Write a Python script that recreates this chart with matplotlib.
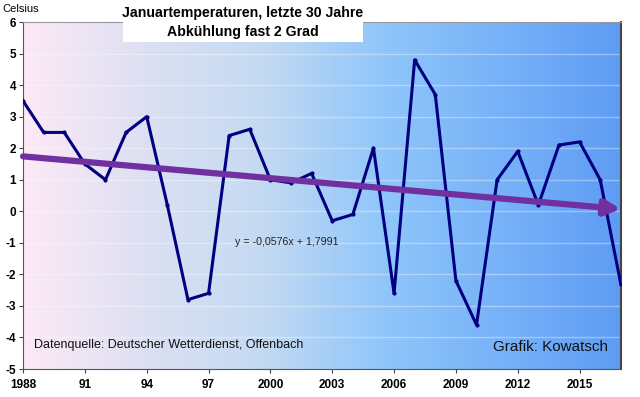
#!/usr/bin/env python3

import numpy as np
import matplotlib.pyplot as plt
from matplotlib.colors import LinearSegmentedColormap

years = list(range(1988, 2018))
temps = [3.5, 2.5, 2.5, 1.5, 1.0, 2.5, 3.0, 0.2, -2.8, -2.6,
         2.4, 2.6, 1.0, 0.9, 1.2, -0.3, -0.1, 2.0, -2.6, 4.8,
         3.7, -2.2, -3.6, 1.0, 1.9, 0.2, 2.1, 2.2, 1.0, -2.3]
trend_slope = -0.0576
trend_icept = 1.7991
xtick_years = [1988, 1991, 1994, 1997, 2000, 2003, 2006, 2009, 2012, 2015]
xtick_labels = ['1988', '91', '94', '97', '2000', '2003', '2006', '2009', '2012', '2015']

plt.rcParams['font.family'] = ['Liberation Sans', 'DejaVu Sans']


def main():
    fig = plt.figure(figsize=(6.4, 3.97), dpi=100)
    ax = fig.add_axes([0.036, 0.0705, 0.934, 0.874])

    # background gradient
    bg = LinearSegmentedColormap.from_list(
        'bg', ['#fde9f7', '#dde0f2', '#c4daf2', '#90c6fa', '#78b2f8', '#5e9cf4'])
    grad = np.linspace(0, 1, 256).reshape(1, -1)
    ax.imshow(grad, cmap=bg, aspect='auto', extent=[1988, 2017, -5, 6], zorder=0)

    ax.set_xlim(1988, 2017)
    ax.set_ylim(-5, 6)
    for yy in range(-4, 6):
        ax.axhline(yy, color='white', alpha=0.35, lw=1, zorder=1)

    ax.plot(years, temps, color='#000080', lw=2.2, marker='o', ms=2, zorder=3)

    # trend arrow
    idx = np.arange(1, len(years) + 1)
    trend = trend_slope * idx + trend_icept
    ax.annotate('', xy=(years[-1], trend[-1]), xytext=(years[0], trend[0]),
                arrowprops=dict(arrowstyle='-|>,head_length=0.9,head_width=0.45',
                                color='#7030a0', lw=4.5, shrinkA=0, shrinkB=0),
                zorder=4, annotation_clip=False)

    ax.text(1998.3, -0.98, 'y = -0,0576x + 1,7991', fontsize=7.7, color='#222222', va='center')
    ax.text(1988.55, -4.25, 'Datenquelle: Deutscher Wetterdienst, Offenbach',
            fontsize=9, color='#111111', va='center')
    ax.text(2016.4, -4.3, 'Grafik: Kowatsch', fontsize=11, color='#111111',
            va='center', ha='right')

    ax.set_xticks(xtick_years)
    ax.set_xticklabels(xtick_labels, fontweight='bold', fontsize=8.5)
    ax.set_yticks(range(-5, 7))
    ax.set_yticklabels([str(v) for v in range(-5, 7)], fontweight='bold', fontsize=8.5)
    ax.tick_params(axis='both', length=3, width=0.8, color='#444444', pad=2)
    ax.tick_params(axis='x', pad=4)

    for side in ('left', 'bottom'):
        ax.spines[side].set_color('#555555')
    ax.spines['top'].set_color('#999999')
    ax.spines['right'].set_color('#444444')
    ax.spines['right'].set_linewidth(1.5)

    fig.text(0.004, 0.978, 'Celsius', fontsize=8, va='center', ha='left')

    # title box
    fig.patches.append(plt.Rectangle((123 / 640, 1 - 42 / 397), 240 / 640, 37 / 397,
                                     transform=fig.transFigure, facecolor='white',
                                     edgecolor='none', zorder=5))
    fig.text(243 / 640, 1 - 13 / 397, 'Januartemperaturen, letzte 30 Jahre',
             fontsize=10.2, fontweight='bold', ha='center', va='center', zorder=6)
    fig.text(243 / 640, 1 - 32 / 397, 'Abkühlung fast 2 Grad',
             fontsize=10.2, fontweight='bold', ha='center', va='center', zorder=6)

    plt.savefig('out.png', dpi=100)


if __name__ == '__main__':
    main()
